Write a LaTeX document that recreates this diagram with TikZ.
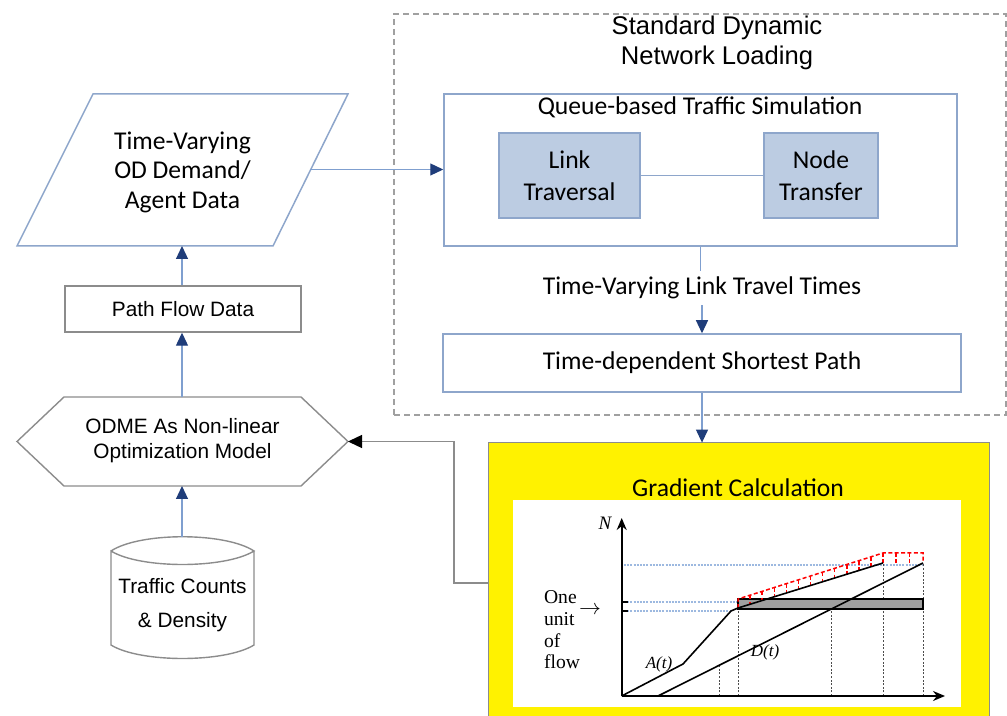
\documentclass[tikz,border=0pt]{standalone}
\usepackage{fontspec}
\setmainfont{Liberation Sans}
\newfontfamily\calfont{Carlito}
\newfontfamily\tmsfont{Liberation Serif}
\usetikzlibrary{arrows.meta,calc}
\definecolor{bline}{HTML}{8EA6CB}
\definecolor{bfill}{HTML}{BCCCE2}
\definecolor{navy}{HTML}{1F3D7A}
\definecolor{cline}{HTML}{7F9FCF}
\definecolor{gline}{HTML}{8C8C8C}
\definecolor{dgray}{HTML}{A0A0A0}
\definecolor{dotblue}{HTML}{9DB9E0}
\begin{document}
\begin{tikzpicture}[x=0.5pt,y=-0.5pt,
  calf/.style={font=\calfont\fontsize{12.8}{16}\selectfont},
  box/.style={draw=bline,line width=0.75pt,inner sep=0pt,minimum width=#1},
  gbox/.style={draw=gline,line width=0.7pt},
  blueflow/.style={draw=cline,line width=0.6pt,-{Triangle[length=6.5pt,width=6pt,color=navy]}},
  plainline/.style={draw=bline,line width=0.6pt},
  graphline/.style={line width=0.8pt,black},
  vdot/.style={line width=0.5pt,black!70,dash pattern=on 1pt off 0.8pt},
  hdot/.style={line width=0.9pt,dotblue,dash pattern=on 1pt off 0.6pt},
  reddash/.style={line width=0.75pt,red,dash pattern=on 2pt off 1.2pt},
  ser/.style={font=\tmsfont\fontsize{9.8}{10.85}\selectfont},
  seri/.style={font=\tmsfont\itshape\fontsize{8.5}{9}\selectfont},
]
\useasboundingbox (0,0) rectangle (1007,716);

% ---------- dashed DNL box ----------
\node[draw=dgray,line width=1pt,dash pattern=on 3pt off 2pt,minimum width=306pt,minimum height=200.5pt,inner sep=0pt] (dnl) at (700,214.5) {};
\node[font=\fontsize{12.8}{15}\selectfont,align=center] (dnltitle) at (717,43) {Standard Dynamic\\Network Loading};

% queue box
\node[box=256.5pt,minimum height=76pt] (queue) at (700.5,170) {};
\node[calf] (queuetitle) at (700,107) {Queue-based Traffic Simulation};
\node[box=70.5pt,minimum height=42.5pt,fill=bfill,calf,align=center] (link) at (569.5,175.5) {Link\\Traversal};
\node[box=57pt,minimum height=42.5pt,fill=bfill,calf,align=center] (nodet) at (821,175.5) {Node\\Transfer};
\draw[plainline] (link) -- (nodet);

% travel times label and TDSP
\node[calf,inner sep=3pt] (ttlabel) at (702,288) {Time-Varying Link Travel Times};
\node[box=259pt,minimum height=29pt,calf] (tdsp) at (702,363) {Time-dependent Shortest Path};
\draw[draw=cline,line width=0.6pt] (queue.south) -- (queue.south |- ttlabel.north);
\draw[blueflow] (ttlabel.south) -- (ttlabel.south |- tdsp.north);

% ---------- yellow gradient box ----------
\node[fill=yellow,minimum width=250pt,minimum height=138.5pt,inner sep=0pt] (grad) at (739,581.5) {};
\draw[gline,line width=0.7pt] (grad.south west) -- (grad.north west) -- (grad.north east) -- (grad.south east);
\draw[blueflow] (tdsp.south) -- (tdsp.south |- grad.north);
\node[calf] (gradtitle) at (738,488) {Gradient Calculation};
\node[fill=white,minimum width=224pt,minimum height=103.5pt,inner sep=0pt] (plot) at (737,603.5) {};

% graph
\coordinate (O) at (621.7,696);
\coordinate (Ytop) at (621.7,518);
\coordinate (Xend) at (945,696);
\draw[hdot] (624,565) -- (923,565);
\draw[hdot] (624,602) -- (738,602);
\draw[hdot] (624,611) -- (731,611);
\draw[vdot] (719,696) -- (719,665);
\draw[vdot] (738,696) -- (738,608);
\draw[vdot] (831,696) -- (831,609);
\draw[vdot] (883,696) -- (883,563);
\draw[vdot] (923,696) -- (923,563);
\draw[black,line width=0.6pt,fill=gray!75] (738,599) rectangle (923,609);
% red dashed units
\coordinate (ru1) at (738,599); \coordinate (ru2) at (883,553); \coordinate (ru3) at (923,553);
\coordinate (rl1) at (738,608); \coordinate (rl2) at (883,563); \coordinate (rl3) at (923,563);
\draw[reddash] (rl1) -- (ru1) -- (ru2) -- (ru3) -- (rl3);
\foreach \t in {0.083,0.167,0.25,0.333,0.417,0.5,0.583,0.667,0.75,0.833,0.917,1.0}
  \draw[reddash] ($(ru1)!\t!(ru2)$) -- ($(rl1)!\t!(rl2)$);
\foreach \t in {0.33,0.66}
  \draw[reddash] ($(ru2)!\t!(ru3)$) -- ($(rl2)!\t!(rl3)$);
% A(t), D(t)
\draw[graphline] (O) -- (683,664) -- (731,611) -- (738,608) -- (883,563);
\draw[graphline] (658,696) -- (923,563);
% axes
\draw[line width=0.9pt,-{Stealth[length=6pt,width=5pt]}] (O) -- (Ytop);
\draw[line width=0.9pt,-{Stealth[length=6pt,width=5pt]}] (O) -- (Xend);
\draw[line width=0.9pt] (621.7,602) -- (628,602);
\draw[line width=0.9pt] (621.7,611) -- (628,611);
\node[font=\tmsfont\itshape\fontsize{9.5}{10}\selectfont] (nlab) at (605,523) {N};
\node[seri] (alab) at (659,664) {A(t)};
\node[seri] (dlab) at (765,652) {D(t)};
\node[ser,align=left,anchor=west] (unit) at (537,630) {One\\unit\\of\\flow};
\node[font=\fontsize{11}{11}\selectfont] (unitarrow) at (590,610) {$\rightarrow$};

% ---------- left column ----------
% parallelogram
\coordinate (pTL) at (93,94); \coordinate (pTR) at (348,94);
\coordinate (pBR) at (273,246); \coordinate (pBL) at (17,246);
\draw[bline,line width=0.75pt] (pTL) -- (pTR) -- (pBR) -- (pBL) -- cycle;
\coordinate (paraR) at (310,169.5);
\coordinate (paraB) at (182,246);
\node[calf,font=\calfont\fontsize{12.8}{14.8}\selectfont,align=center] (paratext) at (182.5,172) {Time-Varying\\OD Demand/\\Agent Data};
\draw[blueflow] (paraR) -- (paraR -| queue.west);

% path flow data
\node[gbox,minimum width=118pt,minimum height=23pt,inner sep=0pt,font=\fontsize{10.4}{12}\selectfont] (pfd) at (183,309) {Path Flow Data};
\draw[blueflow] (pfd.north -| paraB) -- (paraB);

% hexagon
\coordinate (hL) at (17,441.5); \coordinate (hTL) at (64,397); \coordinate (hTR) at (301,397);
\coordinate (hR) at (348,441.5); \coordinate (hBR) at (301,486); \coordinate (hBL) at (64,486);
\draw[gline,line width=0.7pt] (hL) -- (hTL) -- (hTR) -- (hR) -- (hBR) -- (hBL) -- cycle;
\coordinate (hT) at (182,397); \coordinate (hB) at (182,486);
\node[font=\fontsize{10.4}{12.5}\selectfont,align=center] (hextext) at (182.5,441) {ODME As Non-linear\\Optimization Model};
\draw[blueflow] (hT) -- (hT |- pfd.south);

% cylinder
\draw[gline,line width=0.7pt] (111,551) .. controls (140,532) and (225,532) .. (254,551)
  .. controls (225,569) and (140,569) .. (111,551) -- (111,645)
  .. controls (140,663) and (225,663) .. (254,645) -- (254,551);
\coordinate (cT) at (182,537);
\node[font=\fontsize{10.4}{17}\selectfont,align=center] (cyltext) at (182.5,605) {Traffic Counts\\\& Density};
\draw[blueflow] (cT) -- (hB);

% feedback connector
\coordinate (fb) at (454,583);
\draw[gline,line width=0.7pt,-{Triangle[length=7pt,width=6.5pt,color=black]}] (fb -| grad.west) -- (fb) |- (hR);
\end{tikzpicture}
\end{document}
